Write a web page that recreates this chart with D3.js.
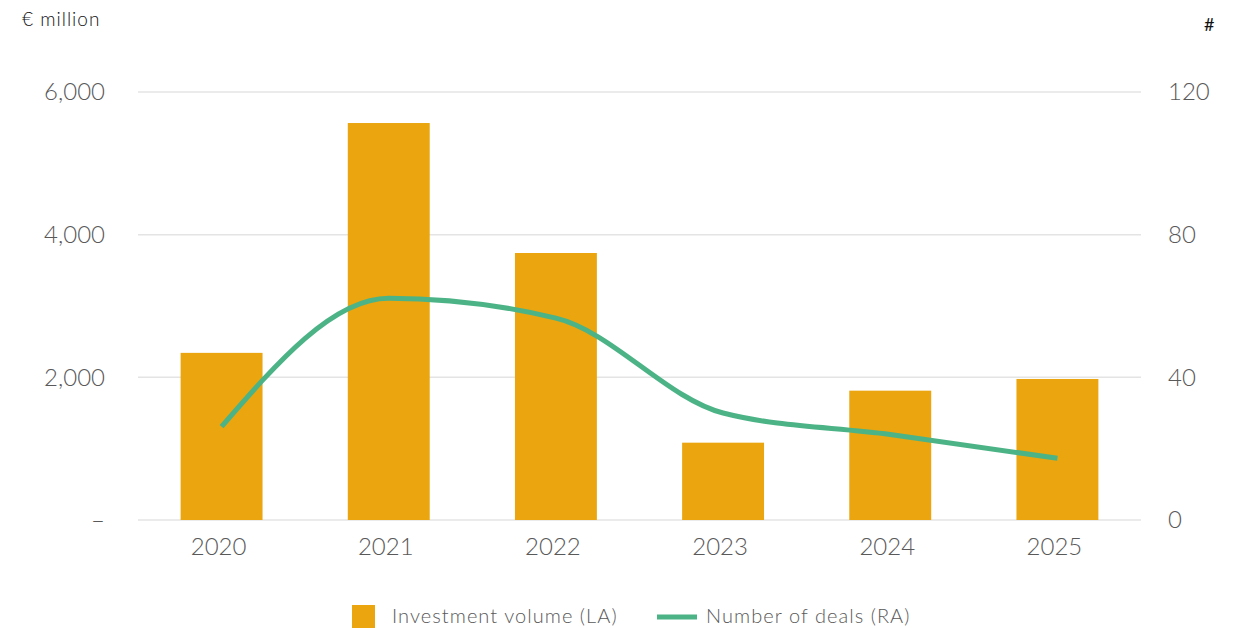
<!DOCTYPE html>
<html>
<head>
<meta charset="utf-8">
<script src="https://cdn.jsdelivr.net/npm/d3@7"></script>
<style>
  body { margin: 0; background: #fff; }
  svg { font-family: Lato, 'Open Sans', sans-serif; }
</style>
</head>
<body>
<svg></svg>
<script>
const years = ['2020', '2021', '2022', '2023', '2024', '2025']
const volume = [2343, 5565, 3743, 1084, 1813, 1977]
const deals = [26.2, 62.2, 56.6, 30.0, 24.0, 17.3]
const leftTicks = [0, 2000, 4000, 6000]
const rightTicks = [0, 40, 80, 120]

const width = 1244
const height = 628
const margin = ({
  top: 92,
  right: 103,
  bottom: 108,
  left: 138
})

const svg = d3.select('svg')
  .attr('width', width)
  .attr('height', height)

const x = d3.scaleBand()
  .domain(years)
  .range([margin.left, width - margin.right])
  .paddingInner(0.51)
  .paddingOuter(0.255)

const yLeft = d3.scaleLinear()
  .domain([0, 6000])
  .range([height - margin.bottom, margin.top])

const yRight = d3.scaleLinear()
  .domain([0, 120])
  .range([height - margin.bottom, margin.top])

// gridlines
svg.append('g')
  .selectAll('line')
  .data(leftTicks)
  .join('line')
  .attr('x1', margin.left)
  .attr('x2', width - margin.right)
  .attr('y1', d => yLeft(d))
  .attr('y2', d => yLeft(d))
  .attr('stroke', '#e4e4e4')
  .attr('stroke-width', 1.5)

function styleTicks (g) {
  g.select('.domain').remove()
  g.selectAll('text')
    .attr('font-size', '24px')
    .attr('font-family', 'Lato, sans-serif')
    .attr('font-weight', 300)
    .attr('fill', '#595959')
}

// left axis labels
svg.append('g')
  .attr('transform', `translate(105,0)`)
  .call(d3.axisLeft(yLeft).tickValues(leftTicks).tickSize(0)
    .tickFormat(d => d === 0 ? '–' : d3.format(',')(d)))
  .call(styleTicks)
  .call(g => g.selectAll('text').attr('x', 0))

// right axis labels
svg.append('g')
  .attr('transform', `translate(1168,0)`)
  .call(d3.axisRight(yRight).tickValues(rightTicks).tickSize(0))
  .call(styleTicks)
  .call(g => g.selectAll('text').attr('x', 0))

// x axis labels
svg.append('g')
  .attr('transform', `translate(-3,${height - margin.bottom + 15})`)
  .call(d3.axisBottom(x).tickSize(0))
  .call(styleTicks)

// bars
svg.append('g')
  .attr('fill', '#eaa50f')
  .selectAll('rect')
  .data(years)
  .join('rect')
  .attr('x', d => x(d))
  .attr('width', x.bandwidth())
  .attr('y', (d, i) => yLeft(volume[i]))
  .attr('height', (d, i) => yLeft(0) - yLeft(volume[i]))

// line
const line = d3.line()
  .x((d, i) => x(years[i]) + x.bandwidth() / 2)
  .y(d => yRight(d))
  .curve(d3.curveMonotoneX)

svg.append('path')
  .datum(deals)
  .attr('d', line)
  .attr('fill', 'none')
  .attr('stroke', '#4cb386')
  .attr('stroke-width', 5)

// unit labels
svg.append('text')
  .attr('x', 22)
  .attr('y', 26)
  .attr('font-size', '19px')
  .attr('font-weight', 300)
  .attr('letter-spacing', '1px')
  .attr('fill', '#111')
  .text('€ million')

svg.append('text')
  .attr('x', 1204)
  .attr('y', 31)
  .attr('font-size', '18px')
  .attr('fill', '#111')
  .text('#')

// legend
const legend = svg.append('g')
  .attr('font-size', '20px')
  .attr('font-weight', 300)
  .attr('letter-spacing', '1.05px')
  .attr('font-family', 'Lato, sans-serif')
  .attr('fill', '#595959')

legend.append('rect')
  .attr('x', 352)
  .attr('y', 605)
  .attr('width', 23)
  .attr('height', 23)
  .attr('fill', '#eaa50f')

legend.append('text')
  .attr('x', 392)
  .attr('y', 623)
  .text('Investment volume (LA)')

legend.append('line')
  .attr('x1', 657)
  .attr('x2', 697)
  .attr('y1', 617)
  .attr('y2', 617)
  .attr('stroke', '#4cb386')
  .attr('stroke-width', 5)

legend.append('text')
  .attr('x', 706)
  .attr('y', 623)
  .text('Number of deals (RA)')
</script>
</body>
</html>
